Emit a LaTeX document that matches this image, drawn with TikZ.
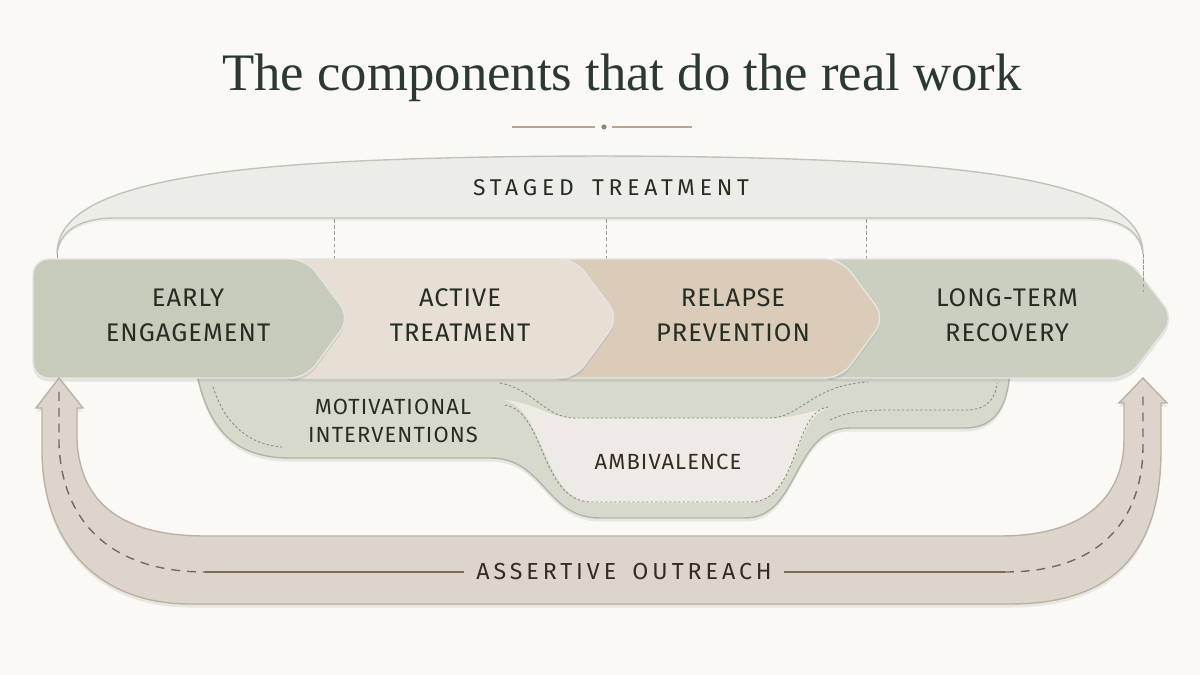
\documentclass[tikz,border=0pt]{standalone}
\usepackage{fontspec}
\setmainfont{Liberation Serif}
\newfontfamily\labfont[LetterSpace=4]{Fira Sans}
\newfontfamily\midfont[LetterSpace=5]{Fira Sans}
\newfontfamily\widefont[LetterSpace=21]{Fira Sans}
\newfontfamily\outfont[LetterSpace=17]{Fira Sans}
\usetikzlibrary{shadows}
\definecolor{bg}{HTML}{FAF9F6}
\definecolor{titlecol}{HTML}{2B3A2E}
\definecolor{ink}{HTML}{262E24}
\definecolor{brownink}{HTML}{352A24}
\definecolor{orn}{HTML}{B9A58E}
\definecolor{brfill}{HTML}{EDEDE7}
\definecolor{brline}{HTML}{C2C3B8}
\definecolor{sage}{HTML}{C7CBBA}
\definecolor{beige}{HTML}{E8DFD4}
\definecolor{tan}{HTML}{DBCBB9}
\definecolor{sage2}{HTML}{CBCFC0}
\definecolor{midfill}{HTML}{D7D9CC}
\definecolor{midline}{HTML}{B3B6A7}
\definecolor{ambfill}{HTML}{EEEBE6}
\definecolor{stitch}{HTML}{8E8F84}
\definecolor{ufill}{HTML}{DDD5CB}
\definecolor{uline}{HTML}{BDB1A3}
\definecolor{uink}{HTML}{7A6A58}
\definecolor{tick}{HTML}{9A9A92}
\tikzset{
  chevbox/.style={rounded corners=9pt, draw=white!90!black, line width=0.8pt,
    drop shadow={shadow xshift=0pt, shadow yshift=-2pt, opacity=0.18}},
  chevlabel/.style={font=\labfont\fontsize{14.5}{20}\selectfont, text=ink, align=center},
  midlabel/.style={font=\midfont\fontsize{12.5}{16}\selectfont, align=center},
  stitchline/.style={draw=stitch, line width=0.5pt, dash pattern=on 1.4pt off 1.2pt},
  tickline/.style={draw=tick, line width=0.5pt, dash pattern=on 2pt off 1.5pt},
  udash/.style={draw=uink, line width=0.8pt, dash pattern=on 5pt off 4pt},
  usolid/.style={draw=uink, line width=0.8pt}
}
\begin{document}
\begin{tikzpicture}[x=0.02cm,y=-0.02cm]
\useasboundingbox (0,0) rectangle (1200,675);
\fill[bg] (0,0) rectangle (1200,675);

% title
\node[font=\fontsize{30}{36}\selectfont, text=titlecol] (title) at (622,78) {The components that do the real work};
\draw[orn, line width=0.8pt] (512,127) -- (595,127);
\fill[orn!80!black] (604,127) circle (2.6);
\draw[orn, line width=0.8pt] (612,127) -- (692,127);

% staged treatment bracket
\path[fill=brfill, draw=brline, line width=0.8pt,
  drop shadow={shadow xshift=0pt, shadow yshift=-1.5pt, opacity=0.12}]
  (57,254) .. controls (57,175) and (250,157) .. (600,156)
  .. controls (950,157) and (1143,175) .. (1143,254)
  .. controls (1140,226) and (1112,218) .. (1085,218)
  -- (115,218) .. controls (88,218) and (60,226) .. (57,254) -- cycle;
\node[font=\widefont\fontsize{13}{16}\selectfont, text=ink] (staged) at (611,188) {STAGED\hspace{0.8em}TREATMENT};

\coordinate (t1) at (334,219);
\coordinate (t2) at (606,219);
\coordinate (t3) at (866,219);
\coordinate (t0) at (57,254);
\coordinate (t4) at (1143,254);
\draw[tickline] (t1) -- ++(0,41);
\draw[tickline] (t2) -- ++(0,41);
\draw[tickline] (t3) -- ++(0,41);
\draw[tickline] (t0) -- ++(0,6);
\draw[tickline] (t4) -- ++(0,40);

% middle band (motivational / ambivalence)
\path[fill=midfill, draw=midline, line width=0.8pt,
  drop shadow={shadow xshift=0pt, shadow yshift=-2pt, opacity=0.15}]
  (196,370) .. controls (208,430) and (235,458) .. (290,458)
  -- (490,458) .. controls (545,458) and (545,518) .. (600,518)
  -- (745,518) .. controls (800,518) and (792,428) .. (850,428)
  -- (965,428) .. controls (996,428) and (1008,405) .. (1010,370) -- cycle;
\fill[ambfill]
  (503,400) .. controls (546,408) and (542,503) .. (595,503)
  -- (748,503) .. controls (800,503) and (792,414) .. (830,408)
  .. controls (805,412) and (795,418) .. (771,418)
  -- (575,418) .. controls (548,418) and (535,402) .. (503,400) -- cycle;
\draw[stitchline] (213,387) .. controls (225,425) and (250,445) .. (282,447);
\draw[stitchline] (500,383) .. controls (535,390) and (545,418) .. (575,418)
  -- (770,418) .. controls (800,418) and (812,385) .. (868,382);
\draw[stitchline] (505,405) .. controls (546,412) and (540,502) .. (592,502)
  -- (750,502) .. controls (800,502) and (792,412) .. (828,407);
\draw[stitchline] (830,420) .. controls (848,411) and (870,410) .. (890,410)
  -- (966,410) .. controls (990,410) and (996,395) .. (997,383);
\node[midlabel, text=ink] (motiv) at (393,421) {MOTIVATIONAL\\INTERVENTIONS};
\node[midlabel, text=brownink] (ambiv) at (668,462) {AMBIVALENCE};

% chevrons (drawn right to left so each overlaps the next)
\path[chevbox, fill=sage2] (820,259) -- (1128,259) -- (1174,318) -- (1128,378) -- (820,378) -- cycle;
\path[chevbox, fill=tan] (550,259) -- (841,259) -- (885,318) -- (841,378) -- (550,378) -- cycle;
\path[chevbox, fill=beige] (280,259) -- (575,259) -- (619,318) -- (575,378) -- (280,378) -- cycle;
\path[chevbox, fill=sage] (33,259) -- (306,259) -- (350,318) -- (306,378) -- (33,378) -- cycle;
\draw[tickline] (1143,259) -- (1143,292);

\node[chevlabel] (early) at (188,315) {EARLY\\ENGAGEMENT};
\node[chevlabel] (active) at (460,315) {ACTIVE\\TREATMENT};
\node[chevlabel] (relapse) at (733,315) {RELAPSE\\PREVENTION};
\node[chevlabel] (longterm) at (1007,315) {LONG-TERM\\RECOVERY};

% assertive outreach U arrow
\coordinate (ltip) at (59,378);
\coordinate (rtip) at (1143,378);
\path[fill=ufill, draw=uline, line width=0.8pt,
  drop shadow={shadow xshift=0pt, shadow yshift=-2pt, opacity=0.15}]
  (ltip) -- (83,408) -- (77,408) -- (77,440)
  .. controls (80,505) and (125,536) .. (205,536)
  -- (1000,536) .. controls (1090,536) and (1124,492) .. (1124,440)
  -- (1124,403) -- (1119,403) -- (rtip) -- (1167,403) -- (1161,403) -- (1161,450)
  .. controls (1161,565) and (1100,604) .. (1010,604)
  -- (190,604) .. controls (95,604) and (42,540) .. (42,450)
  -- (42,408) -- (36,408) -- cycle;
\node[font=\outfont\fontsize{13.2}{18}\selectfont, text=brownink, inner xsep=7pt] (outreach) at (624,572) {ASSERTIVE\hspace{0.7em}OUTREACH};
\draw[udash] (59,392) -- (59,445) .. controls (63,530) and (120,572) .. (205,572);
\draw[usolid] (205,572) -- (outreach.west);
\draw[usolid] (outreach.east) -- (1005,572);
\draw[udash] (1005,572) .. controls (1100,572) and (1143,520) .. (1143,445) -- (1143,392);
\end{tikzpicture}
\end{document}
